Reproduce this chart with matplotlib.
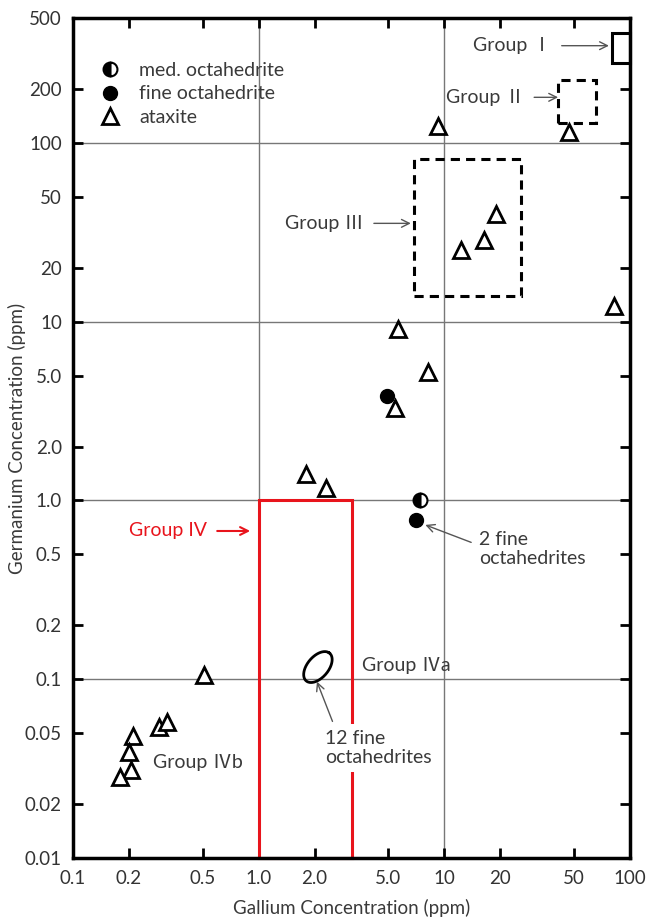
import numpy as np
import matplotlib
matplotlib.use("Agg")
import matplotlib.pyplot as plt
from matplotlib.patches import Rectangle
from matplotlib.lines import Line2D

plt.rcParams['font.family'] = ['Lato', 'Noto Sans CJK JP', 'DejaVu Sans']

## data (ppm)
ataxite_ga = [9.2, 47, 12.3, 16.3, 19, 82, 5.6, 8.2, 5.4, 1.8, 2.3, 0.51,
              0.21, 0.20, 0.205, 0.18, 0.29, 0.32]
ataxite_ge = [124, 115, 25.3, 28.8, 40, 12.2, 9.1, 5.2, 3.3, 1.4, 1.17, 0.106,
              0.048, 0.039, 0.031, 0.0285, 0.054, 0.058]
fine_ga = [4.9, 7.0]
fine_ge = [3.85, 0.78]
med_ga = [7.4]
med_ge = [1.0]

# group fields
box_ga = [(80, 100), (41, 66), (6.9, 26), (1.0, 3.2)]
box_ge = [(280, 410), (130, 225), (14, 81), (0.01, 1.0)]
box_style = ['solid', (0, (3, 2)), (0, (3, 2)), 'solid']
box_color = ['k', 'k', 'k', '#e8141c']

# Group IVa cluster (12 fine octahedrites)
iva_center = (2.085, 0.117)
iva_axes = (0.1, 0.058)   # semi axes, decades
iva_angle = 52

xticks = [0.1, 0.2, 0.5, 1.0, 2.0, 5.0, 10, 20, 50, 100]
xticklabels = ['0.1', '0.2', '0.5', '1.0', '2.0', '5.0', '10', '20', '50', '100']
yticks = [0.01, 0.02, 0.05, 0.1, 0.2, 0.5, 1.0, 2.0, 5.0, 10, 20, 50, 100, 200, 500]
yticklabels = ['0.01', '0.02', '0.05', '0.1', '0.2', '0.5', '1.0', '2.0', '5.0',
               '10', '20', '50', '100', '200', '500']

txt = '#3a3a3a'
fs = 14

fig = plt.figure(figsize=(6.49, 9.19), dpi=100)
ax = fig.add_axes([73/649, 61/919, 557/649, 840/919])
ax.set_xscale('log')
ax.set_yscale('log')
ax.set_xlim(0.1, 100)
ax.set_ylim(0.01, 500)

# grid only at decades
for gx in [1, 10]:
    ax.axvline(gx, color='#777777', lw=1, zorder=1)
for gy in [0.1, 1, 10, 100]:
    ax.axhline(gy, color='#777777', lw=1, zorder=1)

# group boxes
for (x0, x1), (y0, y1), ls, c in zip(box_ga, box_ge, box_style, box_color):
    ax.add_patch(Rectangle((x0, y0), x1 - x0, y1 - y0, fill=False, ec=c,
                           lw=2.2, ls=ls, zorder=2, clip_on=False))

# ellipse in log space
t = np.linspace(0, 2*np.pi, 200)
th = np.radians(iva_angle)
a, b = iva_axes
lx = np.log10(iva_center[0]) + a*np.cos(t)*np.cos(th) - b*np.sin(t)*np.sin(th)
ly = np.log10(iva_center[1]) + a*np.cos(t)*np.sin(th) + b*np.sin(t)*np.cos(th)
ax.plot(10**lx, 10**ly, color='k', lw=2, zorder=3)

# points
ax.plot(ataxite_ga, ataxite_ge, ls='none', marker='^', ms=11, mfc='white',
        mec='k', mew=2, zorder=4)
ax.plot(fine_ga, fine_ge, ls='none', marker='o', ms=10, mfc='k', mec='k', zorder=4)
ax.plot(med_ga, med_ge, ls='none', marker='o', ms=10, mfc='k', mec='k', mew=1.5,
        fillstyle='left', markerfacecoloralt='white', zorder=4)

# labels with arrows
arr = dict(arrowstyle='->', color='#555555', lw=1, shrinkA=5, shrinkB=0)
ax.annotate('Group Ⅰ', xy=(77, 350), xytext=(38, 350), ha='right', va='center',
            fontsize=fs, color=txt, arrowprops=arr)
ax.annotate('Group Ⅱ', xy=(41, 180), xytext=(27, 180), ha='right', va='center',
            fontsize=fs, color=txt, arrowprops=arr)
ax.annotate('Group Ⅲ', xy=(6.6, 35.5), xytext=(3.7, 35.5), ha='right', va='center',
            fontsize=fs, color=txt, arrowprops=arr)
ax.annotate('Group IV', xy=(0.9, 0.675), xytext=(0.53, 0.675), ha='right', va='center',
            fontsize=fs, color='#e8141c',
            arrowprops=dict(arrowstyle='->', color='#e8141c', lw=1.5, shrinkA=5, shrinkB=0))
ax.annotate('2 fine\noctahedrites', xy=(7.9, 0.73), xytext=(15.4, 0.535),
            ha='left', va='center', fontsize=fs, color=txt, linespacing=1.15,
            arrowprops=dict(arrowstyle='->', color='#555555', lw=1, shrinkA=4,
                            shrinkB=0, relpos=(0, 0.6)))
ax.annotate('12 fine\noctahedrites', xy=(2.06, 0.097), xytext=(2.28, 0.0413),
            ha='left', va='center', fontsize=fs, color=txt, linespacing=1.15,
            bbox=dict(boxstyle='square,pad=0.3', fc='white', ec='none'),
            arrowprops=dict(arrowstyle='->', color='#555555', lw=1, shrinkA=2,
                            shrinkB=0, relpos=(0.1, 1)), zorder=5)
ax.text(3.6, 0.12, 'Group Ⅳa', ha='left', va='center', fontsize=fs, color=txt)
ax.text(0.27, 0.034, 'Group Ⅳb', ha='left', va='center', fontsize=fs, color=txt)

# legend
handles = [
    Line2D([], [], ls='none', marker='o', ms=10, mfc='k', mec='k', mew=1.5,
           fillstyle='left', markerfacecoloralt='white'),
    Line2D([], [], ls='none', marker='o', ms=10, mfc='k', mec='k'),
    Line2D([], [], ls='none', marker='^', ms=11, mfc='white', mec='k', mew=2),
]
leg = ax.legend(handles, ['med. octahedrite', 'fine octahedrite', 'ataxite'],
                loc='upper left', bbox_to_anchor=(0.035, 0.957), frameon=False,
                fontsize=fs, handlelength=1.0, handletextpad=1.0,
                labelspacing=0.33, borderaxespad=0)
for tx in leg.get_texts():
    tx.set_color(txt)

# axes style
ax.set_xticks(xticks, xticklabels)
ax.set_yticks(yticks, yticklabels)
ax.minorticks_off()
ax.tick_params(which='major', direction='in', length=7, width=2,
               top=True, right=True, labelsize=13.5, labelcolor='#333333')
ax.tick_params(axis='x', pad=9)
ax.tick_params(axis='y', pad=8)
for s in ax.spines.values():
    s.set_linewidth(2.5)
ax.set_xlabel('Gallium Concentration (ppm)', fontsize=13.5, color=txt, labelpad=8)
ax.set_ylabel('Germanium Concentration (ppm)', fontsize=13.5, color=txt)
ax.yaxis.set_label_coords(-0.085, 0.5)

fig.savefig('out.png', dpi=100)
